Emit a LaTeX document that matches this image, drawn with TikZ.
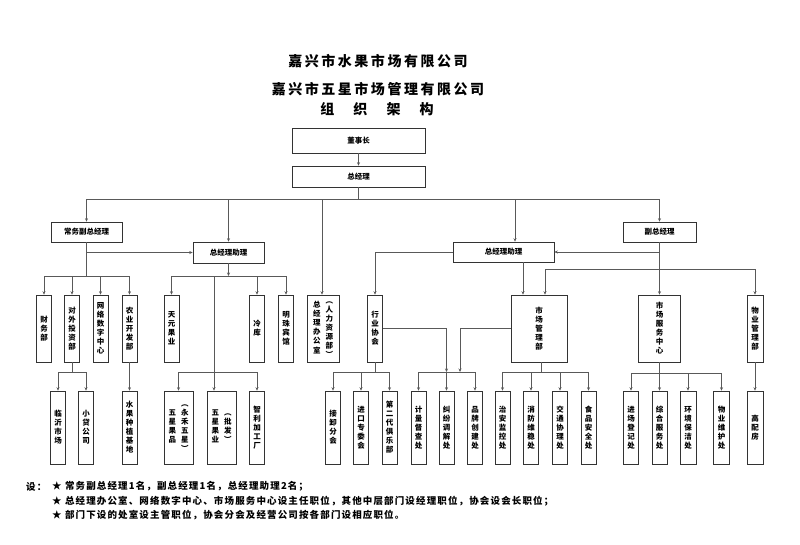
\documentclass[tikz,border=0pt]{standalone}
\usepackage{fontspec}
\setmainfont{Noto Sans CJK SC}
\newfontfamily\titlefont[LetterSpace=18]{Noto Sans CJK SC}
\newfontfamily\notefont[LetterSpace=12]{Noto Sans CJK SC}
\usetikzlibrary{arrows.meta}
\newcommand\vcol[1]{\begin{tabular}[c]{@{}c@{}}#1\end{tabular}}

\begin{document}
\begin{tikzpicture}
[
    x=1pt, y=-1pt,
    >={Stealth[length=3.5pt,width=3pt]},
    line/.style={draw=black!65, line width=0.6pt},
    box/.style={draw=black!80, line width=0.6pt, inner sep=0pt, align=center,
        font=\fontsize{7.5}{9}\selectfont\bfseries},
    wide/.style={box, minimum height=20pt},
    tall/.style={box, minimum width=15pt, minimum height=67pt},
    taller/.style={box, minimum width=15pt, minimum height=73pt},
    heading/.style={font=\titlefont\fontsize{14}{16}\selectfont\bfseries},
    note/.style={font=\notefont\fontsize{9.5}{14.5}\selectfont\bfseries, inner sep=0pt},
]
\useasboundingbox (0,0) rectangle (800,544);

% title
\node[heading] (t1) at (378,61) {嘉兴市水果市场有限公司};
\node[heading] (t2) at (378,89) {嘉兴市五星市场管理有限公司};
\node[heading] (t3) at (377,109) {组　织　架　构};

% top levels
\node[wide, minimum width=133pt, minimum height=25pt] (dsz) at (358.5,140.5) {董事长};
\node[wide, minimum width=133pt, minimum height=21pt] (zjl) at (358.5,176.5) {总经理};
\node[wide, minimum width=71pt] (cwfz) at (86.5,232) {常务副总经理};
\node[wide, minimum width=71pt, minimum height=21pt] (zlA) at (228.5,252.5) {总经理助理};
\node[wide, minimum width=101pt] (zlB) at (503.5,252) {总经理助理};
\node[wide, minimum width=73pt] (fz) at (659.5,232) {副总经理};

% departments
\node[tall] (cwb) at (44,328.5) {财\\务\\部};
\node[tall] (dwtz) at (72,328.5) {对\\外\\投\\资\\部};
\node[tall] (wlsz) at (100.5,328.5) {网\\络\\数\\字\\中\\心};
\node[tall] (nykf) at (129.5,328.5) {农\\业\\开\\发\\部};
\node[tall] (tygy) at (171.5,328.5) {天\\元\\果\\业};
\node[tall] (lk) at (257,328.5) {冷\\库};
\node[tall] (mzbg) at (286,328.5) {明\\珠\\宾\\馆};
\node[tall, minimum width=32pt] (zjb) at (323,328.5)
    {\vcol{总\\经\\理\\办\\公\\室}\hspace{5pt}\vcol{︵\\人\\力\\资\\源\\部\\︶}};
\node[tall] (hyxh) at (375,328.5) {行\\业\\协\\会};
\node[tall, minimum width=56pt] (scgl) at (539,328.5) {市\\场\\管\\理\\部};
\node[tall, minimum width=42pt] (scfw) at (659.5,328.5) {市\\场\\服\\务\\中\\心};
\node[tall, minimum width=16pt] (wygl) at (755,328.5) {物\\业\\管\\理\\部};

% sections
\node[taller] (lysc) at (58,427.5) {临\\沂\\市\\场};
\node[taller] (xdgs) at (86,427.5) {小\\贷\\公\\司};
\node[taller] (sgzz) at (129.5,427.5) {水\\果\\种\\植\\基\\地};
\node[taller, minimum width=29pt] (wxgp) at (178.5,427.5)
    {\vcol{五\\星\\果\\品}\hspace{5pt}\vcol{︵\\永\\禾\\五\\星\\︶}};
\node[taller, minimum width=29pt] (wxgy) at (221.5,427.5)
    {\vcol{五\\星\\果\\业}\hspace{5pt}\vcol{︵\\批\\发\\︶}};
\node[taller] (zljg) at (257,427.5) {智\\利\\加\\工\\厂};
\node[taller] (jxfh) at (333,427.5) {接\\卸\\分\\会};
\node[taller] (jkzw) at (361,427.5) {进\\口\\专\\委\\会};
\node[taller] (dedj) at (389.5,427.5) {第\\二\\代\\俱\\乐\\部};
\node[taller] (jldc) at (418.5,427.5) {计\\量\\督\\查\\处};
\node[taller] (jftj) at (446.5,427.5) {纠\\纷\\调\\解\\处};
\node[taller] (ppcj) at (475,427.5) {品\\牌\\创\\建\\处};
\node[taller] (zajk) at (502.5,427.5) {治\\安\\监\\控\\处};
\node[taller] (xfwy) at (531,427.5) {消\\防\\维\\稳\\处};
\node[taller] (jtxl) at (560,427.5) {交\\通\\协\\理\\处};
\node[taller] (spaq) at (588.5,427.5) {食\\品\\安\\全\\处};
\node[taller] (jcdj) at (631,427.5) {进\\场\\登\\记\\处};
\node[taller] (zhfw) at (659.5,427.5) {综\\合\\服\\务\\处};
\node[taller, minimum width=16pt] (hjbj) at (688,427.5) {环\\境\\保\\洁\\处};
\node[taller, minimum width=16pt] (wywh) at (721.5,427.5) {物\\业\\维\\护\\处};
\node[taller, minimum width=16pt] (gpf) at (755,427.5) {高\\配\\房};

% connectors
\draw[line,->] (dsz) -- (zjl);
\coordinate (b0) at (358.5,199);
\draw[line] (zjl.south) -- (b0);
\draw[line,->] (b0) -| (cwfz.north);
\draw[line,->] (b0) -| (zlA.north);
\draw[line,->] (b0) -| ([xshift=-1pt]zjb.north);
\draw[line,->] (b0) -| ([xshift=11.5pt]zlB.north);
\draw[line,->] (b0) -| (fz.north);

\coordinate (b1) at (86.5,276);
\draw[line] (cwfz.south) -- (b1);
\draw[line,->] (cwfz.south |- zlA.west) -- (zlA.west);
\foreach \n in {cwb,dwtz,wlsz,nykf}
    \draw[line,->] (b1) -| (\n.north);

\coordinate (b2) at (228.5,276);
\draw[line,->] (zlA.south) -- (b2);
\foreach \n in {tygy,lk,mzbg}
    \draw[line,->] (b2) -| (\n.north);
\draw[line,->] (b2) -| ([xshift=-7.5pt]wxgy.north);
\coordinate (b3) at (214,372);
\draw[line,->] (b3) -| (wxgp.north);
\draw[line,->] (b3) -| (zljg.north);

\coordinate (b4) at (72,372);
\draw[line] (dwtz.south) -- (b4);
\draw[line,->] (b4) -| (lysc.north);
\draw[line,->] (b4) -| (xdgs.north);
\draw[line,->] (nykf) -- (sgzz);

\draw[line,->] (zlB.west) -| (hyxh.north);
\draw[line,->] ([xshift=19.5pt]zlB.south) -- ([xshift=19.5pt]zlB.south |- scgl.north);
\draw[line,->] (fz.south) -- (fz.south |- scfw.north);
\draw[line,->] (fz.south |- zlB.east) -- (zlB.east);
\coordinate (b5) at (659.5,269);
\draw[line,->] (b5) -| ([xshift=6pt]scgl.north);
\draw[line,->] (b5) -| (wygl.north);

\coordinate (b6) at (375,372);
\draw[line] (hyxh.south) -- (b6);
\foreach \n in {jxfh,jkzw,dedj}
    \draw[line,->] (b6) -| (\n.north);
\coordinate (b7) at (446.5,372);
\coordinate (b8) at (460,372);
\draw[line,->] (hyxh.east) -| (b7);
\draw[line,->] (scgl.west) -| (b8);
\foreach \n in {jldc,jftj,ppcj}
    \draw[line,->] (b7) -| (\n.north);

\coordinate (b9) at (541,372);
\draw[line] ([xshift=2pt]scgl.south) -- (b9);
\foreach \n in {zajk,xfwy,jtxl,spaq}
    \draw[line,->] (b9) -| (\n.north);

\coordinate (b10) at (659.5,373);
\draw[line] (scfw.south) -- (b10);
\foreach \n in {jcdj,zhfw,hjbj,wywh}
    \draw[line,->] (b10) -| (\n.north);
\draw[line,->] (wygl) -- (gpf);

% notes
\node[note, anchor=west] (she) at (26,487) {设：};
\node[note, anchor=north west, align=left] (notes) at (52,481.5)
    {★ 常务副总经理1名，副总经理1名，总经理助理2名；\\
     ★ 总经理办公室、网络数字中心、市场服务中心设主任职位，其他中层部门设经理职位，协会设会长职位；\\
     ★ 部门下设的处室设主管职位，协会分会及经营公司按各部门设相应职位。};
\end{tikzpicture}
\end{document}
